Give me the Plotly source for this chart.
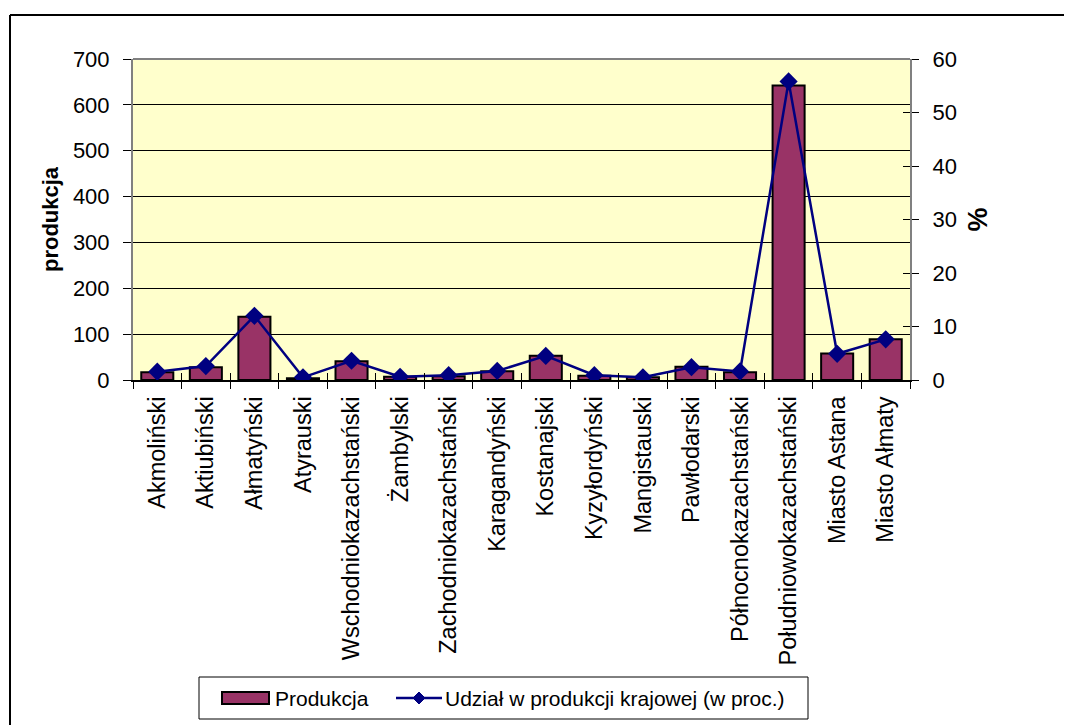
import plotly.graph_objects as go

categories = ["Akmoliński", "Aktiubiński", "Ałmatyński", "Atyrauski", "Wschodniokazachstański",
              "Żambylski", "Zachodniokazachstański", "Karagandyński", "Kostanajski", "Kyzyłordyński",
              "Mangistauski", "Pawłodarski", "Północnokazachstański", "Południowokazachstański",
              "Miasto Astana", "Miasto Ałmaty"]
produkcja = [17, 28, 138, 4, 41, 7, 8, 19, 53, 9, 6, 29, 17, 642, 58, 89]
udzial = [1.55, 2.6, 12.0, 0.5, 3.6, 0.6, 0.9, 1.7, 4.5, 0.9, 0.5, 2.4, 1.6, 55.8, 4.9, 7.6]
left_ticks = [0, 100, 200, 300, 400, 500, 600, 700]
right_ticks = [0, 10, 20, 30, 40, 50, 60]
bar_name = "Produkcja"
line_name = "Udział w produkcji krajowej (w proc.)"

OFF = 8  # page body margin
W, H = 1072 - OFF, 725 - OFF
# plot area in screen pixels
L, R, T, B = 133, 910, 59, 380
FONT = "Liberation Sans, Arial, sans-serif"
FS = 22
BAR_COLOR = "#993366"
LINE_COLOR = "#000080"

def px(x):
    return (x - L) / (R - L)

def py(y):
    return (B - y) / (B - T)

fig = go.Figure()
fig.add_trace(go.Bar(x=categories, y=produkcja, name=bar_name, showlegend=False,
                     marker=dict(color=BAR_COLOR, line=dict(color="black", width=2)),
                     yaxis="y"))
fig.add_trace(go.Scatter(x=categories, y=udzial, name=line_name, showlegend=False,
                         mode="lines+markers", yaxis="y2",
                         line=dict(color=LINE_COLOR, width=2.5),
                         marker=dict(symbol="diamond", size=14, color=LINE_COLOR)))
# invisible helper trace for the crossing-tick overlay axes
fig.add_trace(go.Scatter(x=[-0.5, 15.5], y=[0, 60], xaxis="x2", yaxis="y3", mode="markers",
                         marker=dict(opacity=0), showlegend=False, hoverinfo="skip"))

fig.update_layout(
    width=W, height=H,
    margin=dict(l=L - OFF, r=W - (R - OFF), t=T - OFF, b=H - (B - OFF)),
    paper_bgcolor="white", plot_bgcolor="#FFFFCC",
    font=dict(family=FONT, size=FS, color="black"),
    bargap=0.34,
    showlegend=False,
    xaxis=dict(type="category", categoryorder="array", categoryarray=categories,
               range=[-0.5, 15.5], tickangle=-90, tickson="boundaries",
               ticks="outside", ticklen=7, tickcolor="black", tickwidth=1,
               ticklabelstandoff=5,
               showline=True, linecolor="black", linewidth=2, showgrid=False,
               tickfont=dict(family=FONT, size=23.5, color="black")),
    xaxis2=dict(overlaying="x", range=[-0.5, 15.5], tick0=-0.5, dtick=1, tickmode="linear",
                ticks="inside", ticklen=7, tickcolor="black", showticklabels=False,
                showgrid=False, showline=False, zeroline=False, side="bottom"),
    yaxis=dict(range=[0, 700], tickvals=left_ticks, ticks="outside", ticklen=8,
               tickcolor="black", showline=True, linecolor="#808080", linewidth=2,
               showgrid=True, gridcolor="black", gridwidth=1, zeroline=False,
               ticklabelstandoff=9,
               title=dict(text="<b>produkcja</b>", standoff=8,
                          font=dict(family=FONT, size=FS, color="black"))),
    yaxis2=dict(range=[0, 60], tickvals=right_ticks, overlaying="y", side="right",
                ticks="outside", ticklen=7, tickcolor="black", showline=True,
                linecolor="#808080", linewidth=2, showgrid=False, zeroline=False,
                ticklabelstandoff=9,
                title=dict(text="<b>%</b>", standoff=12,
                           font=dict(family=FONT, size=27, color="black"))),
    yaxis3=dict(range=[0, 60], tickvals=right_ticks, overlaying="y", side="right",
                ticks="inside", ticklen=7, tickcolor="black", showticklabels=False,
                showgrid=False, showline=False, zeroline=False),
)

# plot area top border (grey) and outer chart frame (top/left)
fig.add_shape(type="line", xref="paper", yref="paper", x0=0, x1=1, y0=1, y1=1,
              line=dict(color="#808080", width=2))
fig.add_shape(type="line", xref="paper", yref="paper", x0=px(10), x1=px(1090),
              y0=py(15), y1=py(15), line=dict(color="black", width=2))
fig.add_shape(type="line", xref="paper", yref="paper", x0=px(10), x1=px(10),
              y0=py(15), y1=py(740), line=dict(color="black", width=2))

# legend (drawn manually to mimic the wide bar key)
fig.add_shape(type="rect", xref="paper", yref="paper", x0=px(199), x1=px(808),
              y0=py(719), y1=py(677), line=dict(color="black", width=1), fillcolor="white")
fig.add_shape(type="rect", xref="paper", yref="paper", x0=px(222), x1=px(269),
              y0=py(704), y1=py(692), line=dict(color="black", width=2), fillcolor=BAR_COLOR)
fig.add_shape(type="line", xref="paper", yref="paper", x0=px(396), x1=px(442),
              y0=py(698), y1=py(698), line=dict(color=LINE_COLOR, width=2.5))
cx, cy, d = 419, 698, 6
fig.add_shape(type="path", xref="paper", yref="paper",
              path=f"M {px(cx - d)} {py(cy)} L {px(cx)} {py(cy - d)} L {px(cx + d)} {py(cy)} "
                   f"L {px(cx)} {py(cy + d)} Z",
              line=dict(color=LINE_COLOR, width=1), fillcolor=LINE_COLOR)
fig.add_annotation(xref="paper", yref="paper", x=px(273), y=py(698), text=bar_name,
                   showarrow=False, xanchor="left", yanchor="middle",
                   font=dict(family=FONT, size=21, color="black"))
fig.add_annotation(xref="paper", yref="paper", x=px(443), y=py(698), text=line_name,
                   showarrow=False, xanchor="left", yanchor="middle",
                   font=dict(family=FONT, size=21, color="black"))

fig.write_html("out.html")
